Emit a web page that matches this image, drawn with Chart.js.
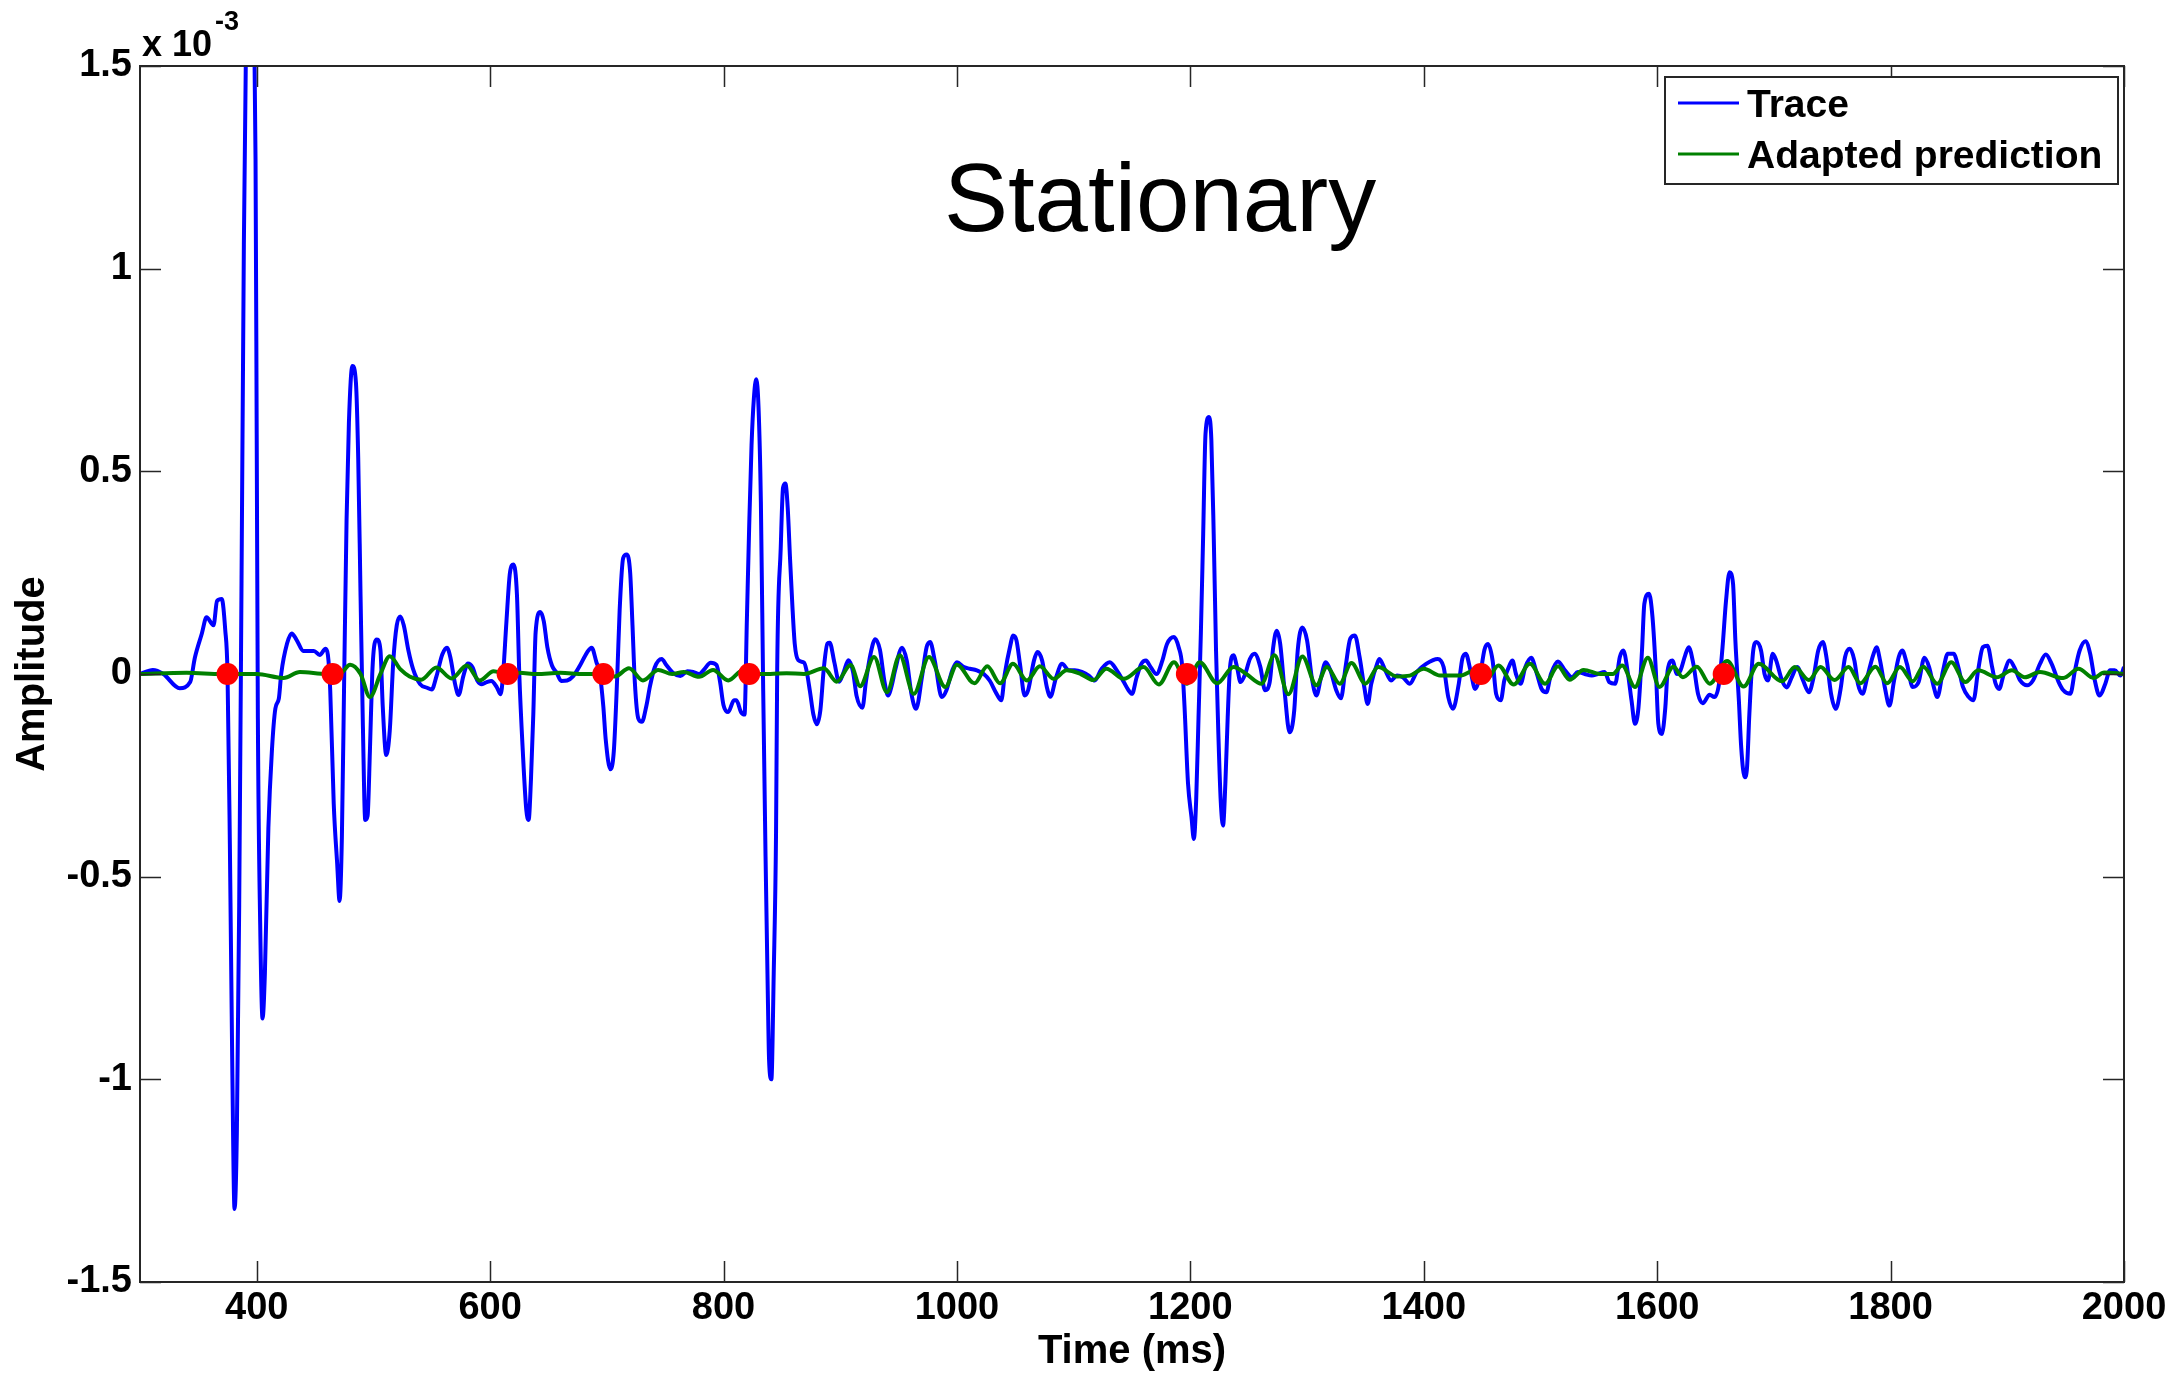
<!DOCTYPE html>
<html>
<head>
<meta charset="utf-8">
<script src="https://cdn.jsdelivr.net/npm/chart.js@4.4.1/dist/chart.umd.min.js"></script>
<style>
  html, body { margin: 0; padding: 0; background: #ffffff; }
  #c { display: block; }
</style>
</head>
<body>
<canvas id="c" width="2175" height="1375"></canvas>
<script>
// ---- data (amplitudes in units of 1e-3) ----
const traceTime = [
  300,311,320,334,343,347,353,357,363,366,
  370,373,375,377,379,381,383,385,387,389,
  391,393,395,397,399,400,401,403,405,407,
  410,413,416,419,421,426,430,434,440,449,
  454,459,461,463,466,469,471,473,475,477,
  479,482,485,487,489,491,493,495,497,499,
  501,503,506,508,511,514,517,520,523,526,
  530,534,540,546,550,554,559,563,566,570,
  573,577,581,585,589,593,597,601,606,609,
  611,614,617,620,623,625,628,631,633,635,
  637,639,643,646,649,653,657,661,666,671,
  677,683,687,691,694,697,699,703,706,709,
  711,714,717,720,722,724,727,730,734,737,
  741,747,751,757,763,769,774,779,783,789,
  794,797,800,804,809,811,815,818,820,822,
  824,826,828,830,832,834,836,838,839,841,
  843,845,846,849,851,853,855,857,859,861,
  864,869,871,874,877,880,883,886,889,891,
  895,899,903,907,911,914,919,922,926,930,
  934,938,941,944,947,953,957,961,965,970,
  974,977,981,987,991,996,1000,1006,1011,1017,
  1023,1028,1034,1038,1041,1046,1048,1051,1054,1058,
  1061,1066,1069,1073,1077,1080,1085,1090,1096,1101,
  1107,1113,1118,1124,1131,1137,1143,1147,1150,1154,
  1158,1162,1166,1171,1176,1180,1186,1190,1193,1195,
  1198,1201,1203,1205,1207,1209,1211,1213,1216,1218,
  1220,1222,1224,1226,1228,1230,1232,1234,1237,1240,
  1243,1247,1251,1255,1260,1264,1268,1271,1274,1277,
  1281,1285,1289,1292,1296,1300,1304,1308,1312,1316,
  1320,1325,1329,1333,1337,1341,1345,1349,1352,1355,
  1360,1362,1367,1372,1377,1382,1388,1394,1402,1412,
  1417,1421,1425,1430,1433,1436,1440,1444,1448,1452,
  1455,1459,1462,1466,1469,1474,1476,1479,1483,1487,
  1492,1497,1501,1505,1509,1515,1521,1527,1532,1538,
  1544,1549,1555,1559,1564,1568,1571,1575,1578,1581,
  1584,1587,1589,1593,1596,1599,1601,1604,1607,1609,
  1613,1617,1620,1624,1627,1631,1635,1639,1645,1649,
  1653,1656,1659,1662,1665,1667,1670,1672,1675,1677,
  1679,1682,1685,1689,1692,1695,1699,1702,1707,1711,
  1715,1720,1725,1730,1734,1738,1742,1745,1749,1753,
  1757,1761,1765,1769,1772,1776,1780,1785,1788,1791,
  1795,1799,1803,1807,1810,1814,1819,1824,1829,1833,
  1837,1840,1845,1849,1854,1858,1862,1867,1871,1875,
  1879,1883,1887,1890,1893,1897,1902,1906,1911,1917,
  1922,1928,1933,1938,1944,1948,1954,1958,1962,1967,
  1971,1975,1979,1984,1988,1992,1997,2000
];
const traceAmp = [
  0,0.01,0,-0.035,-0.02,0.04,0.10,0.14,0.12,0.18,
  0.185,0.11,0,-0.42,-0.95,-1.32,-1.13,-0.57,0.23,1.06,
  1.6,2.0,2.1,1.8,1.27,0.59,-0.11,-0.62,-0.85,-0.74,
  -0.38,-0.19,-0.085,-0.06,0,0.075,0.10,0.085,0.057,0.057,
  0.047,0.062,0.047,-0.04,-0.32,-0.47,-0.56,-0.40,0,0.38,
  0.62,0.76,0.72,0.53,0.19,-0.13,-0.36,-0.35,-0.19,0,
  0.075,0.085,0.06,-0.08,-0.2,-0.14,0.03,0.12,0.142,0.12,
  0.058,0.012,-0.025,-0.034,-0.038,-0.006,0.048,0.065,0.04,-0.025,
  -0.052,-0.006,0.026,0.016,-0.016,-0.025,-0.02,-0.017,-0.034,-0.05,
  -0.006,0.13,0.25,0.27,0.195,0,-0.19,-0.335,-0.36,-0.26,
  -0.1,0.103,0.153,0.13,0.067,0.021,0.003,-0.017,-0.016,-0.006,
  0.021,0.053,0.065,0.03,0,-0.08,-0.16,-0.235,-0.19,0,
  0.158,0.286,0.295,0.25,0.12,-0.02,-0.11,-0.118,-0.077,-0.03,
  0.016,0.037,0.022,0.002,-0.005,0.007,0.005,0,0.01,0.028,
  0.022,-0.019,-0.077,-0.094,-0.065,-0.065,-0.094,-0.1,0.133,0.366,
  0.564,0.68,0.727,0.657,0.424,-0.042,-0.45,-0.8,-0.95,-1.0,
  -0.74,-0.39,0.016,0.31,0.46,0.47,0.41,0.284,0.168,0.075,
  0.034,0.028,0.01,-0.042,-0.1,-0.124,-0.089,0.016,0.075,0.077,
  0.028,-0.019,0.005,0.034,0.005,-0.054,-0.083,-0.019,0.05,0.086,
  0.06,-0.02,-0.053,-0.03,0.009,0.065,0.033,-0.049,-0.086,-0.008,
  0.066,0.079,0.033,-0.057,-0.04,0.009,0.029,0.017,0.013,0.009,
  0,-0.016,-0.049,-0.065,0,0.074,0.095,0.083,0.025,-0.053,
  -0.04,0.033,0.054,0.033,-0.032,-0.056,-0.008,0.025,0.009,0.009,
  0.005,-0.004,-0.016,0.013,0.029,0.009,-0.02,-0.04,-0.049,-0.008,
  0.025,0.033,0.017,0,0.033,0.074,0.091,0.066,0.02,-0.08,
  -0.27,-0.354,-0.407,-0.31,-0.107,0.1,0.346,0.593,0.634,0.577,
  0.346,0.058,-0.148,-0.312,-0.374,-0.27,-0.107,0.017,0.046,0.017,
  -0.02,0,0.037,0.05,0.017,-0.04,-0.02,0.066,0.107,0.074,
  -0.05,-0.144,-0.09,0.058,0.115,0.083,-0.008,-0.053,-0.008,0.029,
  0.009,-0.04,-0.06,0.017,0.087,0.095,0.042,-0.032,-0.074,-0.024,
  0.025,0.037,0.009,-0.016,-0.004,-0.008,-0.024,0.005,0.025,0.037,
  0.017,-0.057,-0.086,-0.024,0.037,0.05,0.009,-0.037,-0.008,0.06,
  0.074,0.033,-0.049,-0.065,-0.016,0.025,0.033,0,-0.024,0.017,
  0.04,0,-0.037,-0.045,0,0.031,0.009,-0.008,0.005,0,
  -0.004,0,0.005,-0.02,-0.024,0.042,0.058,0,-0.065,-0.123,
  -0.082,0.058,0.173,0.198,0.14,0,-0.123,-0.148,-0.082,0.009,
  0.033,0,0.009,0.046,0.066,0.025,-0.049,-0.072,-0.051,-0.057,
  -0.024,0.066,0.181,0.251,0.223,0.083,-0.065,-0.181,-0.255,-0.23,
  -0.098,0.05,0.079,0.058,0,-0.016,0.05,0.033,-0.016,-0.033,
  -0.01,0.017,-0.016,-0.045,-0.008,0.058,0.079,0.042,-0.049,-0.086,
  -0.04,0.042,0.062,0.033,-0.024,-0.049,-0.008,0.046,0.066,0.033,
  -0.032,-0.078,-0.016,0.042,0.058,0.025,-0.032,-0.02,0.04,0.017,
  -0.032,-0.057,0.009,0.05,0.05,0.017,-0.032,-0.057,-0.065,0.009,
  0.066,0.07,0.017,-0.024,-0.037,0,0.033,0.017,-0.016,-0.028,
  -0.016,0.025,0.048,0.025,-0.02,-0.04,-0.049,0.009,0.058,0.081,
  0.05,-0.016,-0.053,-0.024,0.009,0.009,-0.004,0.017
];
const predTime = [
  300,340,370,400,423,437,460,471,480,489,
  497,506,514,523,531,541,554,567,580,591,
  603,614,625,640,660,680,694,707,719,731,
  744,756,766,779,791,804,817,829,840,854,
  869,886,897,909,917,929,940,951,963,976,
  990,1000,1015,1026,1037,1048,1060,1071,1083,1094,
  1106,1117,1128,1143,1160,1173,1186,1197,1208,1223,
  1237,1248,1261,1272,1284,1296,1308,1317,1328,1338,
  1350,1361,1377,1388,1400,1414,1431,1443,1454,1464,
  1477,1491,1504,1515,1525,1537,1551,1562,1570,1581,
  1592,1602,1614,1622,1634,1645,1660,1674,1687,1707,
  1718,1730,1740,1752,1764,1774,1787,1797,1808,1819,
  1828,1840,1852,1864,1875,1891,1904,1915,1928,1948,
  1961,1974,1983,2000
];
const predAmp = [
  0,0.003,0,0,-0.01,0.005,0,0,0.023,0,
  -0.057,0,0.044,0.012,-0.006,-0.014,0.016,-0.011,0.021,-0.016,
  0.007,0,0.003,0,0.003,0,0,-0.006,0.014,-0.016,
  0.01,0,0.005,-0.007,0.01,-0.016,0.01,0,0,0.002,
  0,0.014,-0.019,0.022,-0.03,0.042,-0.045,0.046,-0.049,0.042,
  -0.032,0.023,-0.023,0.019,-0.023,0.025,-0.016,0.019,-0.012,0.009,
  0,-0.015,0.013,-0.012,0.017,-0.026,0.029,-0.024,0.029,-0.023,
  0.017,0,-0.024,0.046,-0.05,0.043,-0.028,0.017,-0.024,0.027,
  -0.024,0.017,-0.006,-0.004,0.013,-0.004,-0.004,0.008,-0.012,0.021,
  -0.026,0.025,-0.024,0.019,-0.014,0.01,0,0,0.021,-0.032,
  0.04,-0.032,0.018,-0.008,0.018,-0.024,0.032,-0.031,0.025,-0.018,
  0.017,-0.015,0.017,-0.015,0.017,-0.023,0.018,-0.023,0.017,-0.018,
  0.018,-0.024,0.029,-0.02,0.009,-0.008,0.009,-0.008,0.005,-0.01,
  0.013,-0.01,0.004,0
];
const pickTime = [375, 465, 615, 697, 822, 1197, 1449, 1657];
const pickAmp  = [0, 0, 0, 0, 0, 0, 0, 0];
const xTickValues = [400, 600, 800, 1000, 1200, 1400, 1600, 1800, 2000];
const yTickValues = [-1.5, -1, -0.5, 0, 0.5, 1, 1.5];
const seriesNames = ['Trace', 'Adapted prediction'];
const titleText = 'Stationary';
const exponentText = ['x 10', '-3'];

// ---- style ----
const FONT = "'Liberation Sans', Arial, Helvetica, sans-serif";
const BLUE = '#0000ff', GREEN = '#008000', RED = '#ff0000', AXIS = '#262626';
const TICK_LEN = 21;

const zip = (xs, ys) => xs.map((v, i) => ({x: v, y: ys[i]}));

const decorations = {
  id: 'decorations',
  afterDatasetsDraw(chart) {
    const {ctx, chartArea: a, scales: {x, y}} = chart;
    ctx.save();
    // box
    ctx.strokeStyle = AXIS;
    ctx.lineWidth = 2;
    ctx.strokeRect(a.left, a.top, a.right - a.left, a.bottom - a.top);
    // inward ticks on all sides
    ctx.lineWidth = 1.5;
    ctx.beginPath();
    xTickValues.forEach(v => {
      const px = Math.round(x.getPixelForValue(v)) + 0.5;
      ctx.moveTo(px, a.bottom); ctx.lineTo(px, a.bottom - TICK_LEN);
      ctx.moveTo(px, a.top); ctx.lineTo(px, a.top + TICK_LEN);
    });
    yTickValues.forEach(v => {
      const py = Math.round(y.getPixelForValue(v)) + 0.5;
      ctx.moveTo(a.left, py); ctx.lineTo(a.left + TICK_LEN, py);
      ctx.moveTo(a.right, py); ctx.lineTo(a.right - TICK_LEN, py);
    });
    ctx.stroke();

    // exponent label
    ctx.fillStyle = '#000';
    ctx.textAlign = 'left';
    ctx.textBaseline = 'alphabetic';
    ctx.font = `bold 36px ${FONT}`;
    ctx.fillText(exponentText[0], a.left + 2, a.top - 10);
    const w = ctx.measureText(exponentText[0]).width;
    ctx.font = `bold 27px ${FONT}`;
    ctx.fillText(exponentText[1], a.left + 2 + w + 3, a.top - 36);

    // in-plot title
    ctx.font = `96px ${FONT}`;
    ctx.textAlign = 'center';
    ctx.fillText(titleText, x.getPixelForValue(1174), y.getPixelForValue(1.092));

    // legend box
    const lx = a.right - 459, ly = a.top + 11, lw = 453, lh = 107;
    ctx.fillStyle = '#fff';
    ctx.fillRect(lx, ly, lw, lh);
    ctx.strokeStyle = AXIS;
    ctx.lineWidth = 2;
    ctx.strokeRect(lx, ly, lw, lh);
    const colors = [BLUE, GREEN];
    ctx.font = `bold 39px ${FONT}`;
    ctx.textAlign = 'left';
    seriesNames.forEach((name, i) => {
      const rowY = ly + 26 + i * 51;
      ctx.strokeStyle = colors[i];
      ctx.lineWidth = 3;
      ctx.beginPath();
      ctx.moveTo(lx + 13, rowY); ctx.lineTo(lx + 74, rowY);
      ctx.stroke();
      ctx.fillStyle = '#000';
      ctx.fillText(name, lx + 82, rowY + 14);
    });
    ctx.restore();
  }
};

new Chart(document.getElementById('c'), {
  type: 'line',
  data: {
    datasets: [
      {
        label: 'picks',
        data: zip(pickTime, pickAmp),
        showLine: false,
        pointRadius: 11,
        pointHoverRadius: 11,
        pointBackgroundColor: RED,
        pointBorderWidth: 0,
        borderColor: RED
      },
      {
        label: seriesNames[1],
        data: zip(predTime, predAmp),
        borderColor: GREEN,
        borderWidth: 4,
        pointRadius: 0,
        cubicInterpolationMode: 'monotone',
        clip: 0,
        fill: false
      },
      {
        label: seriesNames[0],
        data: zip(traceTime, traceAmp),
        borderColor: BLUE,
        borderWidth: 4,
        pointRadius: 0,
        cubicInterpolationMode: 'monotone',
        clip: 0,
        fill: false
      }
    ]
  },
  options: {
    responsive: false,
    animation: false,
    devicePixelRatio: 1,
    events: [],
    layout: { padding: { top: 66, right: 51, bottom: 0, left: 0 } },
    plugins: {
      legend: { display: false },
      tooltip: { enabled: false },
      title: { display: false }
    },
    scales: {
      x: {
        type: 'linear',
        min: 300,
        max: 2000,
        afterBuildTicks: s => { s.ticks = xTickValues.map(v => ({value: v})); },
        afterFit: s => { s.height = 93; },
        grid: { display: false, drawTicks: false },
        border: { display: false },
        ticks: {
          padding: 8,
          color: '#000',
          maxRotation: 0,
          autoSkip: false,
          font: { family: FONT, size: 38, weight: 'bold', lineHeight: 1 },
          callback: v => String(v)
        },
        title: {
          display: true,
          text: 'Time (ms)',
          color: '#000',
          font: { family: FONT, size: 40, weight: 'bold', lineHeight: 1 },
          padding: { top: 0, bottom: 3 }
        }
      },
      y: {
        type: 'linear',
        min: -1.5,
        max: 1.5,
        afterBuildTicks: s => { s.ticks = yTickValues.map(v => ({value: v})); },
        afterFit: s => { s.width = 140; },
        grid: { display: false, drawTicks: false },
        border: { display: false },
        ticks: {
          padding: 8,
          color: '#000',
          autoSkip: false,
          font: { family: FONT, size: 38, weight: 'bold', lineHeight: 1 },
          callback: v => String(v)
        },
        title: {
          display: true,
          text: 'Amplitude',
          color: '#000',
          font: { family: FONT, size: 40, weight: 'bold', lineHeight: 1 },
          padding: { top: 13, bottom: 0 }
        }
      }
    }
  },
  plugins: [decorations]
});
</script>
</body>
</html>
